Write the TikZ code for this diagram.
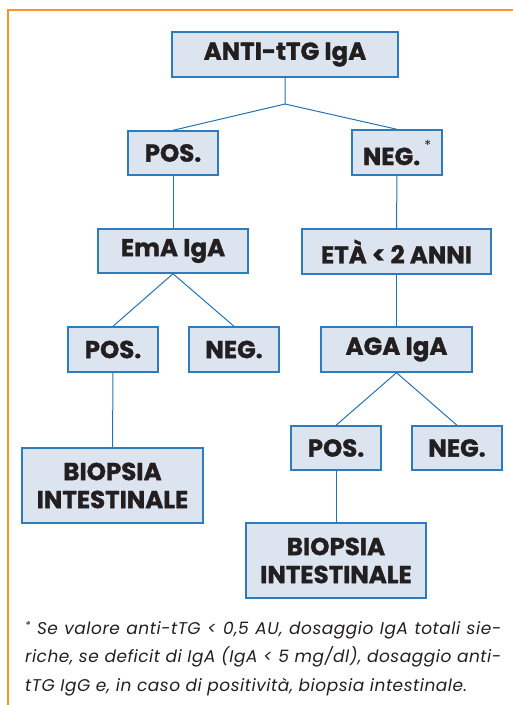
\documentclass[tikz,border=0pt]{standalone}
\usepackage{fontspec}
\setmainfont{Poppins}
\newfontfamily\boxfont[BoldFeatures={FakeBold=1.2}]{Poppins}
\newfontfamily\notefont[LetterSpace=3]{Poppins}
\definecolor{boxfill}{RGB}{220,228,240}
\definecolor{boxline}{RGB}{45,125,190}
\definecolor{linkcol}{RGB}{35,115,180}
\definecolor{framecol}{RGB}{245,150,40}
\definecolor{txt}{RGB}{35,31,32}
\newcommand{\fullline}[1]{\hbox to 476pt{#1}}
\begin{document}
\begin{tikzpicture}[x=1pt,y=-1pt,
  box/.style={draw=boxline,line width=1.4pt,fill=boxfill,inner sep=0pt,
    text=txt,font=\boxfont\bfseries\fontsize{24.5}{28}\selectfont,align=center},
  link/.style={draw=linkcol,line width=1pt}]
\useasboundingbox (0,0) rectangle (512,705);
\draw[framecol,line width=1.4pt] (8,10) rectangle (560,760);
\node[box,minimum width=226pt,minimum height=45pt] (top) at (285,54.5) {ANTI-tTG IgA};
\node[box,minimum width=90pt,minimum height=44pt] (pos1) at (173,153) {POS.};
\node[box,minimum width=90pt,minimum height=45pt] (neg1) at (397,152.5) {NEG.\,\raisebox{1.1ex}{\normalfont\fontsize{14}{14}\selectfont*}};
\node[box,minimum width=150pt,minimum height=44pt] (ema) at (173,251) {EmA IgA};
\node[box,minimum width=189pt,minimum height=45pt] (eta) at (396.5,251.5) {ETÀ < 2 ANNI};
\node[box,minimum width=90pt,minimum height=45pt] (pos2) at (113,349.5) {POS.};
\node[box,minimum width=90pt,minimum height=45pt] (neg2) at (234,349.5) {NEG.};
\node[box,minimum width=181pt,minimum height=75pt] (bio1) at (112.5,485.5) {BIOPSIA\\INTESTINALE};
\node[box,minimum width=151pt,minimum height=45pt] (aga) at (396.5,349.5) {AGA IgA};
\node[box,minimum width=90pt,minimum height=44pt] (pos3) at (336,448) {POS.};
\node[box,minimum width=90pt,minimum height=44pt] (neg3) at (457,448) {NEG.};
\node[box,minimum width=180pt,minimum height=75pt] (bio2) at (336,560.5) {BIOPSIA\\INTESTINALE};
\coordinate (j1) at (285,104);
\draw[link] (top.south) -- (j1) -- (pos1.north);
\draw[link] (j1) -- (neg1.north);
\draw[link] (pos1.south) -- (ema.north);
\draw[link] (neg1.south) -- (eta.north);
\draw[link] (ema.south) -- (pos2.north);
\draw[link] (ema.south) -- (neg2.north);
\draw[link] (pos2.south) -- (bio1.north);
\draw[link] (eta.south) -- (aga.north);
\draw[link] (aga.south) -- (pos3.north);
\draw[link] (aga.south) -- (neg3.north);
\draw[link] (pos3.south) -- (bio2.north);
\node[anchor=north west,inner sep=0pt,align=left,text=txt,
  font=\notefont\itshape\fontsize{17}{28.5}\selectfont] (note) at (25,621)
  {\fullline{\raisebox{0.45ex}{\fontsize{11}{11}\selectfont*} Se valore anti-tTG < 0,5 AU, dosaggio IgA totali sie-}\\
   \fullline{riche, se deficit di IgA (IgA < 5 mg/dl), dosaggio anti-}\\
   tTG IgG e, in caso di positività, biopsia intestinale.};
\end{tikzpicture}
\end{document}
